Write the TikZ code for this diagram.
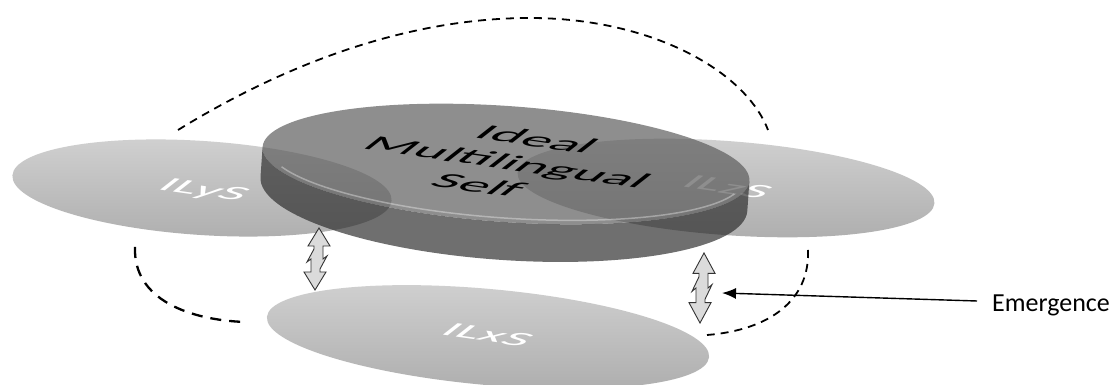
\documentclass[tikz,border=0pt]{standalone}
\usepackage{fontspec}
\setmainfont{Carlito}
\usetikzlibrary{arrows.meta}
\begin{document}
\begin{tikzpicture}[x=1pt,y=1pt,
  onplane/.style={cm={1.852,-0.260,0.788,0.616,(0,0)}},
  selfdisc/.style={top color=black!18, bottom color=black!31},
  planetext/.style={transform shape, inner sep=0pt, font=\fontsize{29}{34}\selectfont, text=white},
  dashloop/.style={dash pattern=on 8pt off 6pt, line width=1.8pt},
  dblarrow/.style={fill=black!14, draw=black!80, line width=0.9pt, line join=miter},
  zz/.pic={
    \path[dblarrow] (2,31) -- (13,13) -- (6,13) -- (6,0) -- (10,3) -- (3,-10)
      -- (3,-13) -- (9,-13) -- (-2,-31) -- (-13,-13) -- (-6,-13) -- (-6,0)
      -- (-10,-3) -- (-3,10) -- (-3,13) -- (-9,13) -- cycle;
  }]
\useasboundingbox (0,0) rectangle (1114,385);
\fill[white] (0,0) rectangle (1114,385);

% the three language selves
\begin{scope}[shift={(202,197)}, rotate=-3.8]
  \shade[selfdisc] (0,0) ellipse [x radius=190, y radius=47];
\end{scope}
\begin{scope}[shift={(726,197)}, rotate=-4.2]
  \shade[selfdisc] (0,0) ellipse [x radius=209, y radius=47];
\end{scope}
\begin{scope}[shift={(488,48)}, rotate=-5.2]
  \shade[selfdisc] (0,0) ellipse [x radius=222, y radius=48];
\end{scope}
\begin{scope}[shift={(203,194)}, onplane]
  \node[planetext] (ly) at (0,0) {ILyS};
\end{scope}
\begin{scope}[shift={(728,198)}, onplane]
  \node[planetext] (lz) at (0,0) {ILzS};
\end{scope}
\begin{scope}[shift={(488,50)}, onplane]
  \node[planetext] (lx) at (0,0) {ILxS};
\end{scope}

% the ideal multilingual self: a translucent disc
\begin{scope}[shift={(506,221)}, rotate=-4]
  \fill[black!84, fill opacity=0.67]
    (-244,0) arc[start angle=180, end angle=360, x radius=244, y radius=58]
    -- (244,-30) arc[start angle=0, end angle=-180, x radius=244, y radius=66] -- cycle;
  \fill[black!66, fill opacity=0.67] (0,0) ellipse [x radius=244, y radius=58];
  \draw[white, opacity=0.35, line width=1.5pt]
    (200:238 and 54) arc[start angle=200, end angle=345, x radius=238, y radius=54];
\end{scope}
\begin{scope}[shift={(508,223)}, onplane]
  \node[transform shape, inner sep=0pt, align=center, font=\fontsize{31}{37}\selectfont] (ims) at (0,0)
    {Ideal\\Multilingual\\Self};
\end{scope}

% dashed loops between the selves
\draw[dashloop] (178,255) .. controls (300,330) and (420,367) .. (530,367)
  .. controls (650,367) and (745,315) .. (768,255);
\draw[dashloop, line width=2.3pt, dash pattern=on 11pt off 8pt]
  (135,138) .. controls (133,85) and (190,65) .. (245,63);
\draw[dashloop] (808,135) .. controls (810,85) and (770,55) .. (707,50);

% two-way links
\pic at (317,126) {zz};
\pic[yscale=1.13] at (702,97) {zz};

% label
\node[anchor=base west, inner sep=0pt, font=\fontsize{26}{30}\selectfont] (em) at (992,73) {Emergence};
\coordinate (emtip) at (722,92);
\draw[line width=1.4pt, -{Latex[length=14pt,width=11pt]}]
  ([xshift=-15pt,yshift=11pt]em.base west) -- (emtip);
\end{tikzpicture}
\end{document}
